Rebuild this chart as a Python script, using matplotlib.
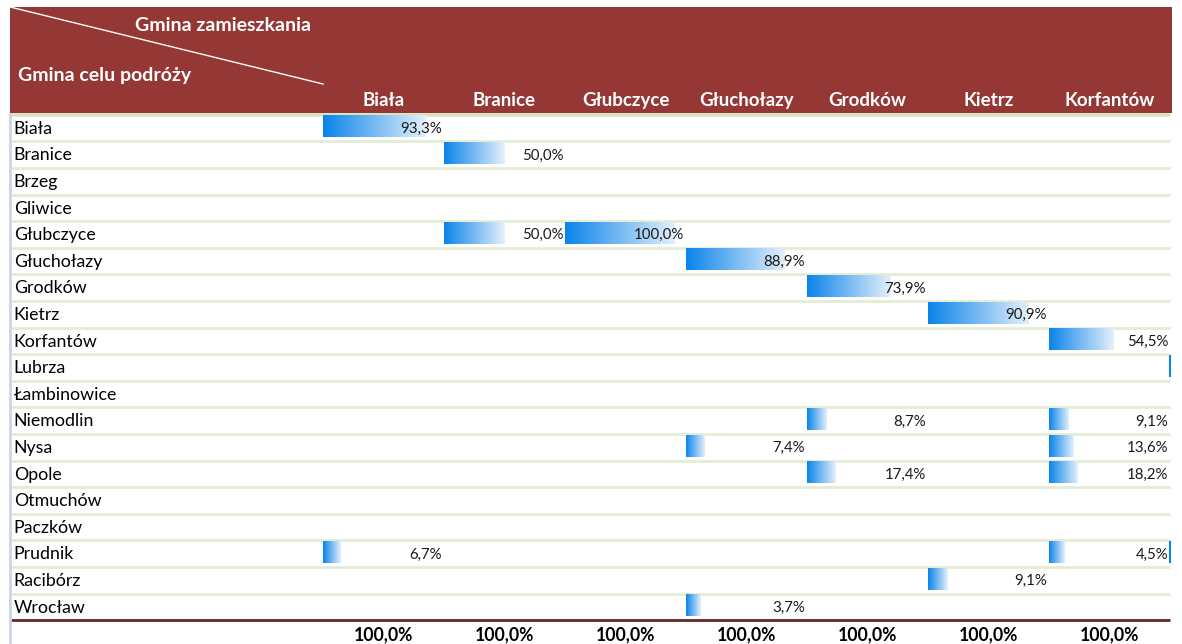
import numpy as np
import matplotlib
matplotlib.use("Agg")
import matplotlib.pyplot as plt
from matplotlib.colors import LinearSegmentedColormap

plt.rcParams['font.family'] = ['Lato', 'DejaVu Sans']

# gminy zamieszkania (kolumny) i gminy celu podróży (wiersze)
columns = ['Biała', 'Branice', 'Głubczyce', 'Głuchołazy', 'Grodków', 'Kietrz', 'Korfantów']
rows = ['Biała', 'Branice', 'Brzeg', 'Gliwice', 'Głubczyce', 'Głuchołazy', 'Grodków',
        'Kietrz', 'Korfantów', 'Lubrza', 'Łambinowice', 'Niemodlin', 'Nysa', 'Opole',
        'Otmuchów', 'Paczków', 'Prudnik', 'Racibórz', 'Wrocław']

N = None
biala      = [93.3, N, N, N, N, N, N, N, N, N, N, N, N, N, N, N, 6.7, N, N]
branice    = [N, 50.0, N, N, 50.0, N, N, N, N, N, N, N, N, N, N, N, N, N, N]
glubczyce  = [N, N, N, N, 100.0, N, N, N, N, N, N, N, N, N, N, N, N, N, N]
glucholazy = [N, N, N, N, N, 88.9, N, N, N, N, N, N, 7.4, N, N, N, N, N, 3.7]
grodkow    = [N, N, N, N, N, N, 73.9, N, N, N, N, 8.7, N, 17.4, N, N, N, N, N]
kietrz     = [N, N, N, N, N, N, N, 90.9, N, N, N, N, N, N, N, N, N, 9.1, N]
korfantow  = [N, N, N, N, N, N, N, N, 54.5, N, N, 9.1, 13.6, 18.2, N, N, 4.5, N, N]
table = [biala, branice, glubczyce, glucholazy, grodkow, kietrz, korfantow]
totals = [100.0, 100.0, 100.0, 100.0, 100.0, 100.0, 100.0]

# wiersze ze śladem paska z kolejnej (niewidocznej) kolumny
edge_rows = ['Lubrza', 'Prudnik']

def pl(v):
    return f"{v:.1f}".replace('.', ',') + '%'

HEADER = '#953735'
GRID = '#E4ECD5'
cmap = LinearSegmentedColormap.from_list('bar', ['#0A84EA', '#E4F0FB'])
grad = np.linspace(0, 1, 256).reshape(1, -1)

fig = plt.figure(figsize=(11.82, 6.44), dpi=100)
ax = fig.add_axes([0, 0, 1, 1])
ax.axis('off')

# nagłówek
left, right = -2.587, 7.017
ax.add_patch(plt.Rectangle((left, -4.55), right - left, 3.99, color=HEADER, lw=0, zorder=1))
ax.plot([left, 0], [-4.55, -1.654], color='white', lw=1, zorder=2)
ax.text(-1.554, -3.85, 'Gmina zamieszkania', color='white', fontsize=14,
        fontweight='bold', va='center', ha='left', zorder=3)
ax.text(-2.52, -1.97, 'Gmina celu podróży', color='white', fontsize=14,
        fontweight='bold', va='center', ha='left', zorder=3)
for j, c in enumerate(columns):
    ax.text(j + 0.5, -1.03, c, color='white', fontsize=13.5, fontweight='bold',
            ha='center', va='center', zorder=3)

# linie wierszy
ax.hlines([i - 0.5 for i in range(len(rows) + 1)][:-1], left, 7.0, color=GRID, lw=2, zorder=1)
ax.hlines(-0.53, left, 7.0, color='#D8E4BC', lw=2, zorder=2)
ax.hlines(len(rows) - 0.5, left, 7.0, color='#632523', lw=2, zorder=2)
ax.vlines(left, -0.55, 19.4, color='#C9D6E8', lw=2, zorder=2)

for i, r in enumerate(rows):
    ax.text(-2.555, i + 0.03, r, fontsize=12.8, ha='left', va='center', color='black')

# paski danych z gradientem
for j, col in enumerate(table):
    for i, v in enumerate(col):
        if v is None:
            continue
        w = 0.091 + 0.0081 * v
        ax.imshow(grad, cmap=cmap, extent=(j, j + w, i + 0.35, i - 0.47),
                  aspect='auto', interpolation='bilinear', zorder=2)
        ax.text(j + 0.985, i + 0.03, pl(v), fontsize=10.8, ha='right', va='center',
                color='#1a1a1a', zorder=3)

for r in edge_rows:
    i = rows.index(r)
    ax.vlines(7.0, i - 0.47, i + 0.35, color='#0A84EA', lw=1.5, zorder=3)

for j, t in enumerate(totals):
    ax.text(j + 0.5, 19.05, pl(t), fontsize=12.7, fontweight='bold', ha='center',
            va='center', color='black')

ax.set_xlim(-323 / 121, (1182 - 323) / 121)
ax.set_ylim((644 - 128) / 26.6, -128 / 26.6)

fig.savefig('out.png', dpi=100)
